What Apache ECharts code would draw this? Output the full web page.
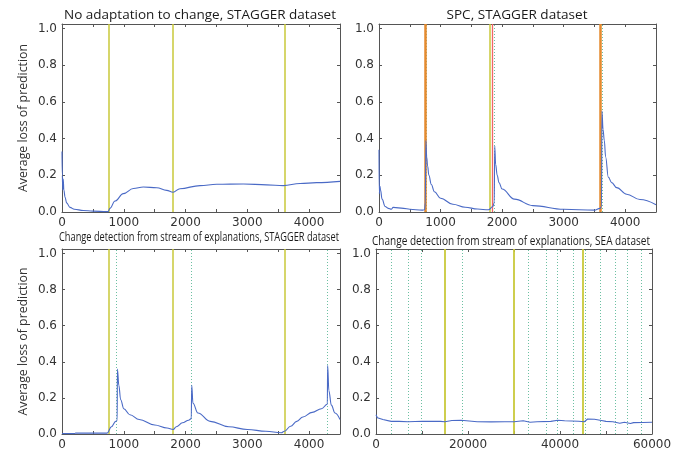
<!DOCTYPE html>
<html><head><meta charset="utf-8">
<script src="https://cdn.jsdelivr.net/npm/echarts@6/dist/echarts.min.js"></script>
<style>html,body{margin:0;padding:0;background:#fff}#c{width:675px;height:451px}</style>
</head><body><div id="c"></div>
<script>
// ---- data ----
const titles = [
  'No adaptation to change, STAGGER dataset',
  'SPC, STAGGER dataset',
  'Change detection from stream of explanations, STAGGER dataset',
  'Change detection from stream of explanations, SEA dataset'
];
const yAxisName = 'Average loss of prediction';
const yTickValues = [0, 0.2, 0.4, 0.6, 0.8, 1.0];
const staggerLabels = [0, 1000, 2000, 3000, 4000];
const staggerTicks = [0, 500, 1000, 1500, 2000, 2500, 3000, 3500, 4000, 4500];
const seaLabels = [0, 20000, 40000, 60000];
const seaTicks = [0, 10000, 20000, 30000, 40000, 50000, 60000];

// No adaptation, STAGGER
const noAdaptX = [0, 5, 12, 20, 30, 50, 75, 130, 200, 345, 500, 723, 745, 777, 858, 993, 1155, 1317, 1533, 1695, 1797, 1910, 2234, 2504, 2936, 3313, 3583, 3853, 4123, 4500];
const noAdaptY = [0.33, 0.2, 0.12, 0.18, 0.12, 0.08, 0.05, 0.025, 0.015, 0.008, 0.005, 0.002, 0.002, 0.02, 0.06, 0.1, 0.128, 0.136, 0.132, 0.118, 0.108, 0.127, 0.144, 0.151, 0.153, 0.148, 0.144, 0.155, 0.16, 0.167];

// SPC, STAGGER
const spcX = [0, 5, 15, 25, 50, 100, 150, 200, 230, 400, 500, 700, 740, 752, 762, 775, 790, 810, 850, 900, 1000, 1200, 1400, 1600, 1780, 1850, 1872, 1880, 1895, 1920, 1950, 2000, 2200, 2500, 3000, 3500, 3590, 3615, 3622, 3640, 3660, 3682, 3725, 3780, 3861, 4023, 4240, 4500];
const spcY = [0.34, 0.1, 0.14, 0.12, 0.07, 0.03, 0.02, 0.015, 0.025, 0.02, 0.015, 0.01, 0.012, 0.05, 0.39, 0.3, 0.25, 0.2, 0.15, 0.11, 0.075, 0.042, 0.026, 0.016, 0.012, 0.03, 0.05, 0.36, 0.26, 0.2, 0.16, 0.125, 0.07, 0.035, 0.015, 0.01, 0.02, 0.03, 0.55, 0.45, 0.39, 0.3, 0.19, 0.16, 0.133, 0.097, 0.068, 0.04];

// Explanations, STAGGER
const explX = [0, 200, 220, 730, 800, 870, 893, 897, 920, 950, 1000, 1100, 1250, 1500, 1700, 1800, 1850, 1950, 2050, 2092, 2100, 2120, 2200, 2400, 2700, 3000, 3300, 3550, 3600, 3700, 3800, 3900, 4050, 4200, 4295, 4300, 4320, 4360, 4420, 4500];
const explY = [0.002, 0.002, 0.005, 0.005, 0.04, 0.07, 0.075, 0.36, 0.27, 0.19, 0.14, 0.107, 0.08, 0.05, 0.033, 0.025, 0.04, 0.062, 0.076, 0.085, 0.27, 0.17, 0.116, 0.07, 0.04, 0.025, 0.015, 0.007, 0.015, 0.043, 0.07, 0.094, 0.12, 0.14, 0.165, 0.38, 0.24, 0.16, 0.116, 0.08];

// Explanations, SEA
const seaX = [0, 300, 1500, 3300, 5000, 7000, 10000, 12000, 14000, 15000, 16500, 18500, 18800, 22000, 25000, 28000, 30000, 32000, 33500, 35000, 38000, 39500, 41000, 44000, 45300, 46000, 47500, 49000, 50000, 51500, 53000, 54000, 55300, 56000, 58000, 60000];
const seaY = [0.107, 0.09, 0.08, 0.07, 0.07, 0.068, 0.071, 0.07, 0.07, 0.068, 0.075, 0.076, 0.068, 0.068, 0.067, 0.068, 0.068, 0.073, 0.065, 0.068, 0.07, 0.076, 0.073, 0.071, 0.068, 0.083, 0.082, 0.075, 0.07, 0.068, 0.06, 0.065, 0.058, 0.063, 0.064, 0.065];

// change markers
const noAdaptChanges = [750, 1800, 3600];
const spcDrift = [750, 1795, 3600];
const spcWarn = [1836];
const spcDetect = [770, 1873, 3630];
const explChanges = [750, 1800, 3600];
const explDetect = [885, 2100, 4300];
const seaChanges = [15000, 30000, 45000];
const seaDetect = [3400, 7100, 9800, 18800, 33100, 37100, 39300, 42900, 45400, 48800, 51950, 54650, 57600];

// ---- styles ----
const BLUE = '#4a6ac6';
const YEL = '#c9c93a';
const GRN = '#6cc0a2';
const ORA = '#e58a2e';
const RED = '#f06666';
const AX = '#555';

const grids = [
  {left: 62, top: 24, width: 278, height: 188},
  {left: 379, top: 24, width: 277, height: 188},
  {left: 62, top: 249, width: 278, height: 188},
  {left: 376, top: 249, width: 276, height: 187}
];

const xAxes = [], yAxes = [];
function addAxes(gi, xmax, labels, ticks, withName) {
  const lbl = {color: '#333', fontFamily: 'DejaVu Sans', fontSize: 12, margin: 5};
  xAxes.push({gridIndex: gi, type: 'value', min: 0, max: xmax, position: 'bottom',
    axisLine: {lineStyle: {color: AX, width: 1}}, splitLine: {show: false},
    axisTick: {inside: true, length: 3, lineStyle: {color: AX}, customValues: ticks},
    axisLabel: Object.assign({customValues: labels, formatter: v => String(v)}, lbl)});
  xAxes.push({gridIndex: gi, type: 'value', min: 0, max: xmax, position: 'top',
    axisLine: {onZero: false, lineStyle: {color: AX, width: 1}}, splitLine: {show: false},
    axisTick: {inside: true, length: 3, lineStyle: {color: AX}, customValues: ticks},
    axisLabel: {show: false}});
  yAxes.push({gridIndex: gi, type: 'value', min: 0, max: 1.025, position: 'left',
    name: withName ? yAxisName : '', nameLocation: 'middle', nameGap: 33,
    nameTextStyle: {fontFamily: 'Open Sans', fontSize: 12.3, color: '#333'},
    axisLine: {show: true, lineStyle: {color: AX, width: 1}}, splitLine: {show: false},
    axisTick: {show: true, inside: true, length: 3, lineStyle: {color: AX}, customValues: yTickValues},
    axisLabel: Object.assign({customValues: yTickValues, formatter: v => v.toFixed(1)}, lbl)});
  yAxes.push({gridIndex: gi, type: 'value', min: 0, max: 1.025, position: 'right',
    axisLine: {show: true, onZero: false, lineStyle: {color: AX, width: 1}}, splitLine: {show: false},
    axisTick: {show: true, inside: true, length: 3, lineStyle: {color: AX}, customValues: yTickValues},
    axisLabel: {show: false}});
}
addAxes(0, 4500, staggerLabels, staggerTicks, true);
addAxes(1, 4500, staggerLabels, staggerTicks, false);
addAxes(2, 4500, staggerLabels, staggerTicks, true);
addAxes(3, 60000, seaLabels, seaTicks, false);

function vlines(vals, color, width, type) {
  return vals.map(v => ({xAxis: v, lineStyle: {color: color, width: width, type: type}}));
}
function zip(xs, ys) { return xs.map((x, i) => [x, ys[i]]); }
function lineSeries(gi, xs, ys, marks, smooth) {
  return {type: 'line', xAxisIndex: gi * 2, yAxisIndex: gi * 2, data: zip(xs, ys),
    showSymbol: false, symbol: 'none', smooth: smooth, smoothMonotone: 'x', silent: true,
    lineStyle: {color: BLUE, width: 1.1}, z: 3,
    markLine: {silent: true, symbol: 'none', label: {show: false}, animation: false, z: 2,
      data: marks}};
}

const series = [
  lineSeries(0, noAdaptX, noAdaptY, vlines(noAdaptChanges, YEL, 1.5, 'solid'), 0.4),
  lineSeries(1, spcX, spcY, [].concat(
    vlines(spcDetect, GRN, 1, [1, 2]),
    vlines([spcDrift[1]], YEL, 1.5, 'solid'),
    vlines(spcWarn, RED, 1.3, 'solid'),
    vlines([spcDrift[0], spcDrift[2]], ORA, 2.5, 'solid')), 0.4),
  lineSeries(2, explX, explY, [].concat(
    vlines(explChanges, YEL, 1.5, 'solid'), vlines(explDetect, GRN, 1, [1, 2])), 0.4),
  lineSeries(3, seaX, seaY, [].concat(
    vlines(seaDetect, GRN, 1, [1, 2]), vlines(seaChanges, YEL, 1.8, 'solid')), false)
];

// titles as text, condensed to the reference widths
const titleFonts = ['13.5px "Open Sans"', '13.5px "Open Sans"', '12.5px "Open Sans"', '12.5px "Open Sans"'];
const titleCenters = [[200, 15], [517, 15], [199, 237], [511, 241]];
const titleWidths = [272, 141, 280, 278];
const mctx = document.createElement('canvas').getContext('2d');
const graphics = titles.map((t, i) => {
  mctx.font = titleFonts[i];
  const w = mctx.measureText(t).width;
  return {type: 'text', x: titleCenters[i][0], y: titleCenters[i][1], scaleX: titleWidths[i] / w,
    silent: true,
    style: {text: t, font: titleFonts[i], fill: '#1a1a1a', textAlign: 'center', textVerticalAlign: 'middle'}};
});

const chart = echarts.init(document.getElementById('c'), null, {renderer: 'canvas'});
chart.setOption({
  animation: false,
  backgroundColor: '#fff',
  grid: grids,
  xAxis: xAxes,
  yAxis: yAxes,
  series: series,
  graphic: graphics
});
</script></body></html>
